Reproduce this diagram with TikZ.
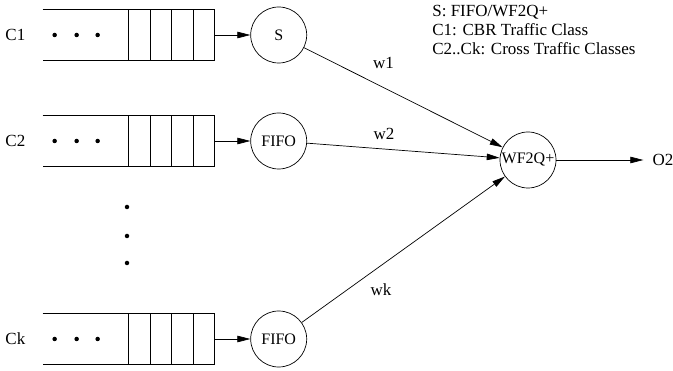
\documentclass[tikz,border=0pt]{standalone}
\usepackage{fontspec}
\setmainfont{Liberation Serif}
\usetikzlibrary{arrows.meta,positioning}
\tikzstyle{queue} = [rectangle, minimum width=171pt, minimum height=50pt, inner sep=0pt]
\tikzstyle{sched} = [draw, circle, minimum size=56pt, inner sep=0pt, font=\fontsize{16}{19}\selectfont]
\tikzstyle{cls} = [inner sep=0pt]
\tikzstyle{weight} = [inner sep=0pt]
\tikzstyle{dot} = [fill, circle, inner sep=0pt, minimum size=4.5pt]
\begin{document}
\begin{tikzpicture}[x=1pt, y=-1pt, >={Triangle[length=13pt,width=6.5pt]},
    line width=0.7pt, font=\fontsize{17}{19}\selectfont]
    \useasboundingbox (0,0) rectangle (673,371);
    % queues, open at the left end
    \node [queue] (q1) at (128.5,35) {};
    \node [queue] (q2) at (128.5,141) {};
    \node [queue] (qk) at (128.5,339) {};
    \foreach \q in {q1,q2,qk} {
        \draw (\q.north west) -- (\q.north east) -- (\q.south east) -- (\q.south west);
        \foreach \i in {1,...,4}
            \draw ([xshift=-\i*21.5pt]\q.north east) -- ([xshift=-\i*21.5pt]\q.south east);
        \foreach \d in {12,34,55}
            \node [dot] (\q-d\d) at ([xshift=\d pt]\q.west) {};
    }
    \node [cls, left=17pt of q1] (c1) {C1};
    \node [cls, left=17pt of q2] (c2) {C2};
    \node [cls, left=17pt of qk] (ck) {Ck};
    \node [dot] (v1) at (127,207) {};
    \node [dot] (v2) at (127,236) {};
    \node [dot] (v3) at (127,263) {};
    % schedulers
    \node [sched, right=36pt of q1] (s) {S};
    \node [sched, right=36pt of q2] (fifo2) {FIFO};
    \node [sched, right=36pt of qk] (fifok) {FIFO};
    \node [sched] (wfq) at (528,160) {WF2Q+};
    \node [cls, right=96pt of wfq] (o2) {O2};
    \node [cls, anchor=north west, align=left] (legend) at (432,5)
        {S: FIFO/WF2Q+\\C1: CBR Traffic Class\\C2..Ck: Cross Traffic Classes};
    \draw [->] (q1) -- (s);
    \draw [->] (q2) -- (fifo2);
    \draw [->] (qk) -- (fifok);
    \draw [->] (s) -- node [weight, pos=0.4, yshift=25pt] {w1} (wfq);
    \draw [->] (fifo2) -- node [weight, pos=0.4, yshift=15pt] {w2} (wfq);
    \draw [->] (fifok) -- node [weight, pos=0.39, yshift=-24pt] {wk} (wfq);
    \draw [->, shorten >=9pt] (wfq) -- (o2);
\end{tikzpicture}
\end{document}
